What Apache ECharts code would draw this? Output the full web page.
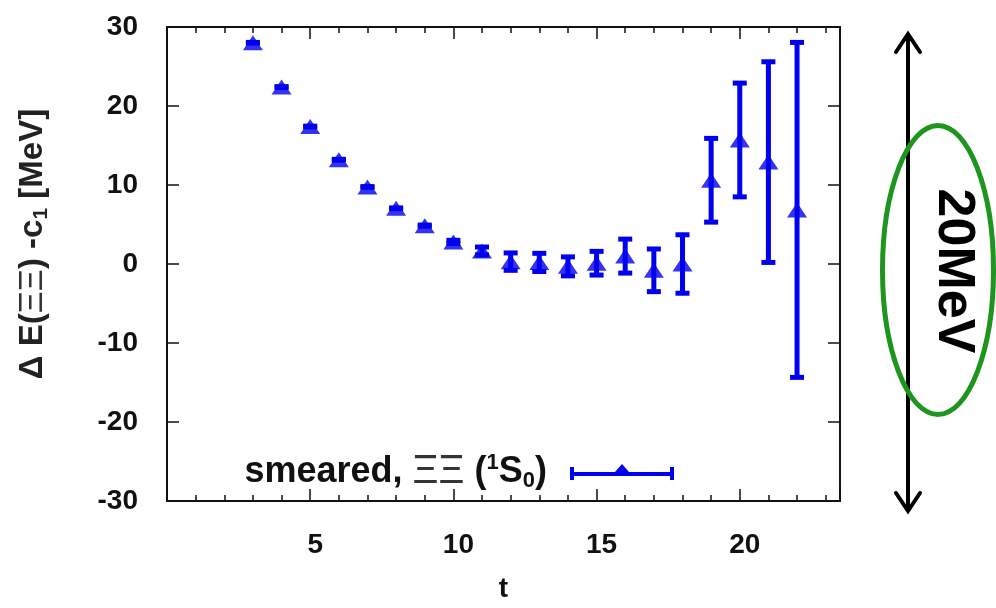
<!DOCTYPE html>
<html><head><meta charset="utf-8">
<script src="https://cdn.jsdelivr.net/npm/echarts@6/dist/echarts.min.js"></script>
<style>html,body{margin:0;padding:0;background:#fff}#c{width:996px;height:608px}</style>
</head><body><div id="c"></div>
<script>
// ---- data ----
const tValues      = [3, 4, 5, 6, 7, 8, 9, 10, 11, 12, 13, 14, 15, 16, 17, 18, 19, 20, 21, 22];
const energyValues = [28.0, 22.4, 17.4, 13.2, 9.75, 7.05, 4.85, 2.8, 1.65, 0.3, 0.2, -0.3, 0.1, 1.0, -0.8, 0.0, 10.6, 15.7, 12.9, 6.85];
const errorValues  = [0.05, 0.05, 0.05, 0.05, 0.05, 0.05, 0.08, 0.2, 0.5, 1.1, 1.15, 1.2, 1.5, 2.15, 2.7, 3.7, 5.3, 7.2, 12.7, 21.2];
const xMajorTicks  = [5, 10, 15, 20];
const yTickLabels  = [-30, -20, -10, 0, 10, 20, 30];
const seriesName   = 'smeared';

const BLUE = '#0000ee';
const FONT = '"Liberation Sans", Arial, sans-serif';

const points = tValues.map((t, i) => [t, energyValues[i], errorValues[i]]);

const chart = echarts.init(document.getElementById('c'), null, {renderer: 'canvas'});

const axisLineStyle = {color: '#111', width: 2};
const tickStyle = {color: '#111', width: 1.5};

function xAx(pos, interval, len, withLine, withLabel) {
  const a = {
    type: 'value', position: pos, min: 0, max: 23.5, interval: interval,
    axisLine: {show: withLine, onZero: false, lineStyle: axisLineStyle},
    axisTick: {show: true, inside: true, length: len, lineStyle: tickStyle},
    axisLabel: {show: false}, splitLine: {show: false}
  };
  if (withLabel) {
    a.axisLabel = {
      show: true, margin: 30, fontSize: 28, fontWeight: 'bold', fontFamily: FONT, color: '#111',
      padding: [0, 0, 0, 10],
      formatter: v => (xMajorTicks.indexOf(v) >= 0 ? String(v) : '')
    };
    a.name = 't';
    a.nameLocation = 'middle';
    a.nameGap = 74;
    a.nameTextStyle = {fontSize: 28, fontWeight: 'bold', fontFamily: FONT, color: '#111'};
  }
  return a;
}

chart.setOption({
  animation: false,
  backgroundColor: '#fff',
  grid: {left: 167, right: 156, top: 27, bottom: 107},
  xAxis: [
    xAx('bottom', 5, 12, true, true),
    xAx('bottom', 1, 6, false, false),
    xAx('top', 5, 12, true, false),
    xAx('top', 1, 6, false, false)
  ],
  yAxis: [
    {
      type: 'value', position: 'left', min: -30, max: 30, interval: 10,
      axisLine: {show: true, onZero: false, lineStyle: axisLineStyle},
      axisTick: {show: true, inside: true, length: 12, lineStyle: tickStyle},
      axisLabel: {
        show: true, margin: 29, fontSize: 28, fontWeight: 'bold', fontFamily: FONT, color: '#111',
        formatter: v => (yTickLabels.indexOf(v) >= 0 ? String(v) : '')
      },
      splitLine: {show: false},
      name: '{a|\u0394 E(}{x|\u039E\u039E}{a|) -c}{s|1}{a| [MeV]}',
      nameLocation: 'middle', nameRotate: 90, nameGap: 115,
      nameTextStyle: {
        padding: [0, 0, 0, 40],
        rich: {
          a: {fontSize: 33, fontWeight: 'bold', fontFamily: FONT, color: '#222', lineHeight: 38},
          x: {fontSize: 34, fontWeight: 'normal', fontFamily: FONT, color: '#333', lineHeight: 38},
          s: {fontSize: 21, fontWeight: 'bold', fontFamily: FONT, color: '#222', lineHeight: 21, verticalAlign: 'bottom'}
        }
      }
    },
    {
      type: 'value', position: 'right', min: -30, max: 30, interval: 10,
      axisLine: {show: true, onZero: false, lineStyle: axisLineStyle},
      axisTick: {show: true, inside: true, length: 12, lineStyle: tickStyle},
      axisLabel: {show: false}, splitLine: {show: false}
    }
  ],
  legend: {
    show: true,
    right: 322, top: 452, padding: 0,
    align: 'right',
    itemWidth: 104, itemHeight: 16,
    data: [{
      name: seriesName,
      icon: 'path://M0,3 L4,3 L4,8 L45,8 L52,0 L59,8 L100,8 L100,3 L104,3 L104,16 L100,16 L100,12 L4,12 L4,16 L0,16 Z'
    }],
    formatter: () => '{a|smeared, }{x|\u039E\u039E}{a| (}{p|1}{a|S}{b|0}{e|)}',
    textStyle: {
      rich: {
        a: {fontSize: 36, fontWeight: 'bold', fontFamily: FONT, color: '#111', lineHeight: 40},
        x: {fontSize: 40, fontWeight: 'normal', fontFamily: FONT, color: '#333', lineHeight: 40},
        p: {fontSize: 22, fontWeight: 'bold', fontFamily: FONT, color: '#111', lineHeight: 22, verticalAlign: 'top'},
        b: {fontSize: 22, fontWeight: 'bold', fontFamily: FONT, color: '#111', lineHeight: 22, verticalAlign: 'bottom'},
        e: {fontSize: 36, fontWeight: 'bold', fontFamily: FONT, color: '#111', lineHeight: 40, padding: [0, 18, 0, 0]}
      }
    }
  },
  series: [
    {
      name: seriesName,
      type: 'custom',
      xAxisIndex: 0, yAxisIndex: 0,
      data: points,
      itemStyle: {color: BLUE},
      renderItem: function (params, api) {
        const x = api.value(0), y = api.value(1), e = api.value(2);
        const top = api.coord([x, y + e]);
        const bot = api.coord([x, y - e]);
        const hw = 7;
        const st = {stroke: BLUE, lineWidth: 5, fill: null};
        return {
          type: 'group',
          children: [
            {type: 'line', shape: {x1: top[0], y1: top[1], x2: bot[0], y2: bot[1]}, style: st},
            {type: 'line', shape: {x1: top[0] - hw, y1: top[1], x2: top[0] + hw, y2: top[1]}, style: st},
            {type: 'line', shape: {x1: bot[0] - hw, y1: bot[1], x2: bot[0] + hw, y2: bot[1]}, style: st}
          ]
        };
      },
      z: 2
    },
    {
      name: seriesName,
      type: 'scatter',
      xAxisIndex: 0, yAxisIndex: 0,
      data: points.map(p => [p[0], p[1]]),
      symbol: 'triangle',
      symbolSize: [20, 15],
      itemStyle: {color: BLUE},
      z: 3
    }
  ],
  graphic: [
    {type: 'line', shape: {x1: 908, y1: 35, x2: 908, y2: 510}, style: {stroke: '#000', lineWidth: 4}},
    {type: 'polyline', shape: {points: [[896, 52], [908, 34], [920, 52]]},
      style: {stroke: '#000', lineWidth: 4, fill: null, lineJoin: 'miter', lineCap: 'round'}},
    {type: 'polyline', shape: {points: [[896, 493], [908, 511], [920, 493]]},
      style: {stroke: '#000', lineWidth: 4, fill: null, lineJoin: 'miter', lineCap: 'round'}},
    {type: 'ellipse', shape: {cx: 938, cy: 270, rx: 55.5, ry: 144.5},
      style: {fill: null, stroke: '#1e961e', lineWidth: 5}},
    {type: 'text', x: 953, y: 271, rotation: -Math.PI / 2,
      style: {text: '20MeV', fontSize: 52, fontWeight: 'bold', fontFamily: FONT, fill: '#000',
        align: 'center', verticalAlign: 'middle'}}
  ]
});
</script>
</body></html>
